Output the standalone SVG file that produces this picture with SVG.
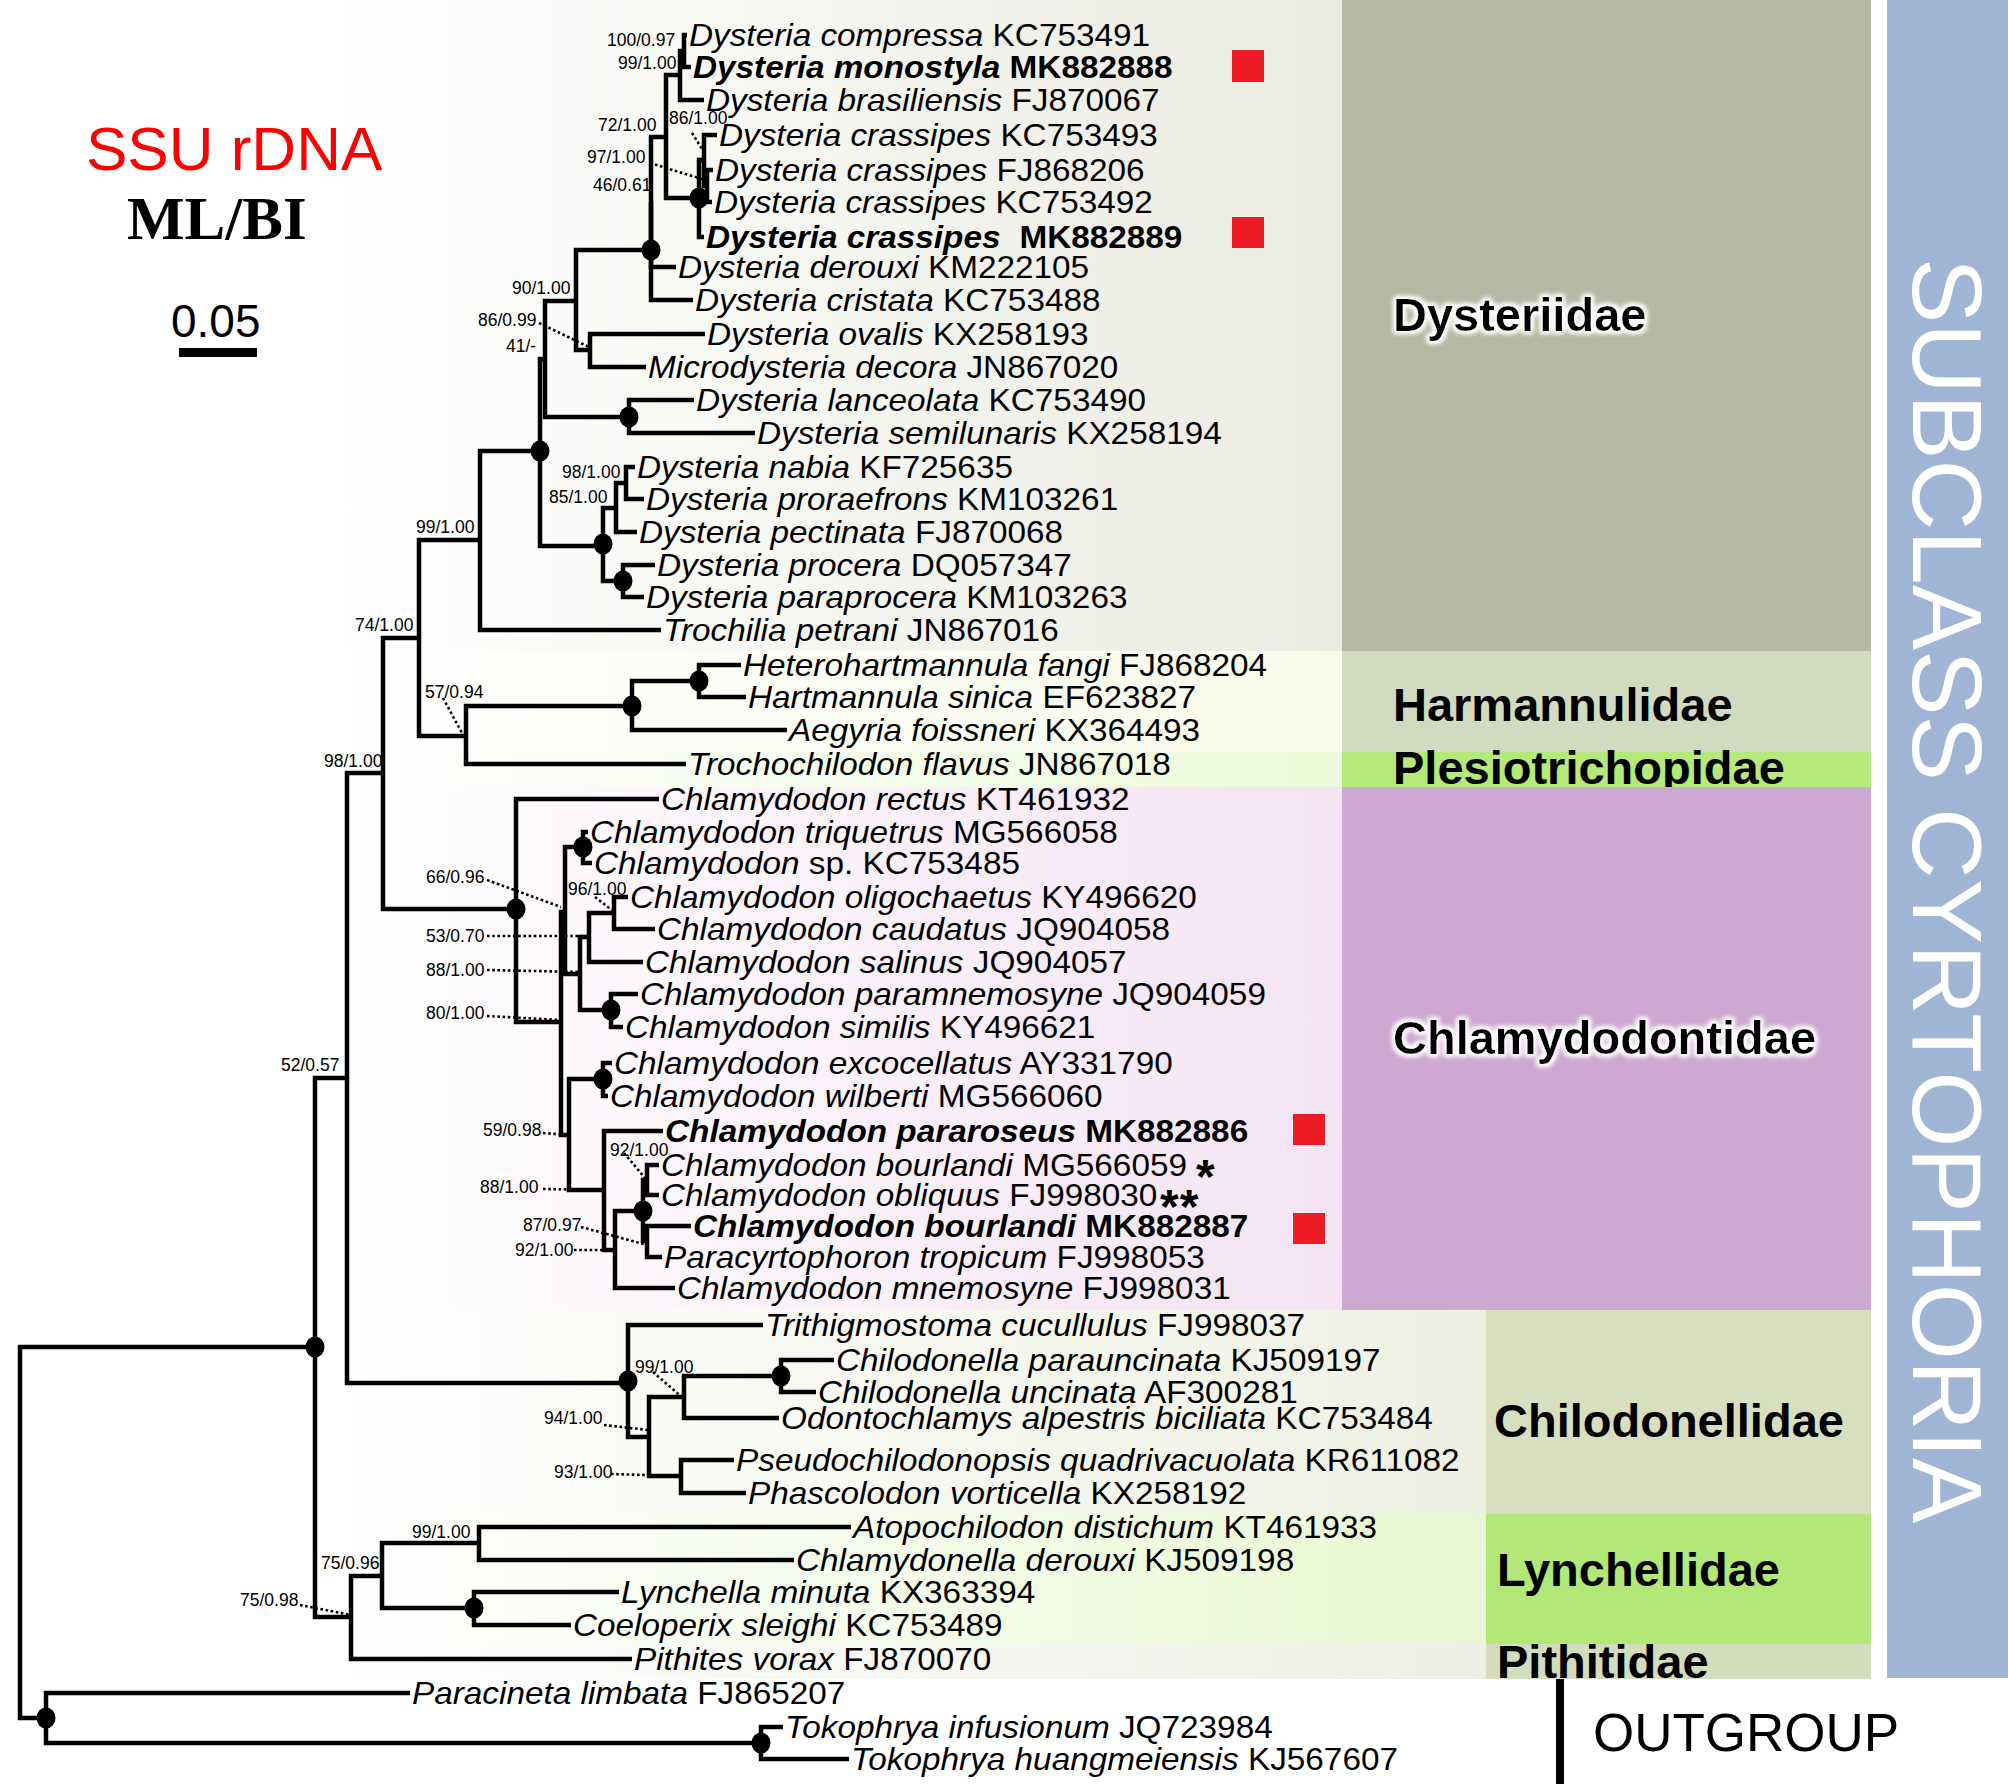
<svg xmlns="http://www.w3.org/2000/svg" width="2008" height="1784" viewBox="0 0 2008 1784">
<defs>
<style>
.t{font-family:"Liberation Sans",Arial,sans-serif;font-size:31px;fill:#000}
.i{font-style:italic}
.b{font-weight:bold}
.s{font-family:"Liberation Sans",Arial,sans-serif;font-size:17.5px;fill:#000}
.fam{font-family:"Liberation Sans",Arial,sans-serif;font-size:47px;font-weight:bold;fill:#000}
.ast{font-family:"Liberation Sans",Arial,sans-serif;font-size:48px;font-weight:bold;fill:#000}
.br{fill:none;stroke:#000;stroke-width:4.5;stroke-linejoin:miter}
.ld{fill:none;stroke:#000;stroke-width:2.6;stroke-dasharray:2.6 2.6}
.dot{fill:#000}
.sq{fill:#ed1c24}
</style>
<linearGradient id="gD" gradientUnits="userSpaceOnUse" x1="350" y1="0" x2="1342" y2="0"><stop offset="0" stop-color="#ffffff"/><stop offset="1" stop-color="#ebebe2"/></linearGradient>
<linearGradient id="gH" gradientUnits="userSpaceOnUse" x1="350" y1="0" x2="1342" y2="0"><stop offset="0" stop-color="#ffffff"/><stop offset="1" stop-color="#f8fbe8"/></linearGradient>
<linearGradient id="gP" gradientUnits="userSpaceOnUse" x1="350" y1="0" x2="1342" y2="0"><stop offset="0" stop-color="#ffffff"/><stop offset="1" stop-color="#ecfad9"/></linearGradient>
<linearGradient id="gC" gradientUnits="userSpaceOnUse" x1="350" y1="0" x2="1342" y2="0"><stop offset="0" stop-color="#ffffff"/><stop offset="1" stop-color="#f5e3f3"/></linearGradient>
<linearGradient id="gCh" gradientUnits="userSpaceOnUse" x1="350" y1="0" x2="1486" y2="0"><stop offset="0" stop-color="#ffffff"/><stop offset="1" stop-color="#eef1e1"/></linearGradient>
<linearGradient id="gL" gradientUnits="userSpaceOnUse" x1="350" y1="0" x2="1486" y2="0"><stop offset="0" stop-color="#ffffff"/><stop offset="1" stop-color="#e9f8d2"/></linearGradient>
<linearGradient id="gPi" gradientUnits="userSpaceOnUse" x1="350" y1="0" x2="1486" y2="0"><stop offset="0" stop-color="#ffffff"/><stop offset="1" stop-color="#eeefe5"/></linearGradient>
<filter id="glow" x="-10%" y="-40%" width="120%" height="180%">
<feMorphology in="SourceAlpha" operator="dilate" radius="2" result="d"/>
<feGaussianBlur in="d" stdDeviation="2.5" result="bl"/>
<feFlood flood-color="#ffffff" result="f"/>
<feComposite in="f" in2="bl" operator="in" result="g"/>
<feMerge><feMergeNode in="g"/><feMergeNode in="g"/><feMergeNode in="SourceGraphic"/></feMerge>
</filter>
</defs>

<rect width="2008" height="1784" fill="#ffffff"/>

<g id="background">
<rect x="0" y="0" width="1342" height="651" fill="url(#gD)"/>
<rect x="0" y="651" width="1342" height="101" fill="url(#gH)"/>
<rect x="0" y="752" width="1342" height="35" fill="url(#gP)"/>
<rect x="0" y="787" width="1342" height="523" fill="url(#gC)"/>
<rect x="0" y="1310" width="1486" height="204" fill="url(#gCh)"/>
<rect x="0" y="1514" width="1486" height="130" fill="url(#gL)"/>
<rect x="0" y="1644" width="1486" height="35" fill="url(#gPi)"/>
</g>

<g id="families">
<g id="fam-dysteriidae"><rect x="1342" y="0" width="529" height="651" fill="#b5b8a2"/><text class="fam" x="1393" y="331" filter="url(#glow)">Dysteriidae</text></g>
<g id="fam-harmannulidae"><rect x="1342" y="651" width="529" height="101" fill="#d2dbbf"/><text class="fam" x="1393" y="721">Harmannulidae</text></g>
<g id="fam-plesiotrichopidae"><rect x="1342" y="752" width="529" height="35" fill="#b5e97c"/><text class="fam" x="1393" y="784">Plesiotrichopidae</text></g>
<g id="fam-chlamydodontidae"><rect x="1342" y="787" width="529" height="523" fill="#cda8d0"/><text class="fam" x="1393" y="1054" filter="url(#glow)">Chlamydodontidae</text></g>
<g id="fam-chilodonellidae"><rect x="1486" y="1310" width="385" height="204" fill="#d8dfc0"/><text class="fam" x="1494" y="1437">Chilodonellidae</text></g>
<g id="fam-lynchellidae"><rect x="1486" y="1514" width="385" height="130" fill="#b2e877"/><text class="fam" x="1497" y="1586">Lynchellidae</text></g>
<g id="fam-pithitidae"><rect x="1486" y="1644" width="385" height="35" fill="#d4dcbe"/><text class="fam" x="1497" y="1678">Pithitidae</text></g>
<g id="subclass"><rect x="1887" y="0" width="121" height="1678" fill="#a0b4d5"/><text x="0" y="0" transform="translate(1913 258) rotate(90)" font-family="Liberation Sans, Arial, sans-serif" font-size="98" fill="#ffffff">SUBCLASS CYRTOPHORIA</text></g>
<g id="outgroup-label"><rect x="1556" y="1679" width="8" height="105" fill="#000"/><text x="1593" y="1751" font-family="Liberation Sans, Arial, sans-serif" font-size="53" fill="#000">OUTGROUP</text></g>
</g>

<g id="title">
<text x="86" y="170" font-family="Liberation Sans, Arial, sans-serif" font-size="62" fill="#ff0000">SSU rDNA</text>
<text x="127" y="239" font-family="Liberation Serif, Times New Roman, serif" font-size="61" font-weight="bold" fill="#000">ML/BI</text>
<text x="171" y="337" font-family="Liberation Sans, Arial, sans-serif" font-size="46" fill="#000">0.05</text>
<rect x="179" y="348" width="78" height="9" fill="#000"/>
</g>

<g id="connectors">
<path class="br" d="M687 35H684V67H691"/>
<path class="br" d="M684 51H680V100H704"/>
<path class="br" d="M713 170H707V202H712"/>
<path class="br" d="M717 135H704V186H707"/>
<path class="br" d="M704 160H699V237H704"/>
<path class="br" d="M680 75H666V198H699"/>
<path class="br" d="M666 137H651V267H676"/>
<path class="br" d="M651 202V300H693"/>
<path class="br" d="M651 250H576V350H590"/>
<path class="br" d="M705 334H590V367H646"/>
<path class="br" d="M576 301H545V417H629"/>
<path class="br" d="M694 400H629V433H755"/>
<path class="br" d="M545 359H540V546H603"/>
<path class="br" d="M616 508H603V581H623"/>
<path class="br" d="M626 483H616V532H637"/>
<path class="br" d="M635 467H626V499H644"/>
<path class="br" d="M655 565H623V597H644"/>
<path class="br" d="M540 451H480V630H661"/>
<path class="br" d="M480 540H419V736H466"/>
<path class="br" d="M632 706H466V764H686"/>
<path class="br" d="M699 681H632V730H787"/>
<path class="br" d="M741 665H699V697H746"/>
<path class="br" d="M419 638H383V909H516"/>
<path class="br" d="M659 799H516V1022H561"/>
<path class="br" d="M565 912H561V1135H569"/>
<path class="br" d="M583 847H565V974H580"/>
<path class="br" d="M588 832H583V863H592"/>
<path class="br" d="M589 937H580V1010H611"/>
<path class="br" d="M614 913H589V962H643"/>
<path class="br" d="M628 897H614V929H655"/>
<path class="br" d="M638 994H611V1027H623"/>
<path class="br" d="M603 1079H569V1190H604"/>
<path class="br" d="M612 1063H603V1096H608"/>
<path class="br" d="M663 1131H604V1250H615"/>
<path class="br" d="M643 1211H615V1288H675"/>
<path class="br" d="M647 1180H643V1241H647"/>
<path class="br" d="M659 1165H647V1195H659"/>
<path class="br" d="M691 1226H647V1257H662"/>
<path class="br" d="M383 773H347V1383H628"/>
<path class="br" d="M763 1325H628V1437H649"/>
<path class="br" d="M684 1397H649V1476H681"/>
<path class="br" d="M781 1376H684V1418H779"/>
<path class="br" d="M834 1360H781V1392H816"/>
<path class="br" d="M734 1460H681V1493H746"/>
<path class="br" d="M347 1078H315V1617H351"/>
<path class="br" d="M382 1576H351V1659H632"/>
<path class="br" d="M479 1543H382V1608H474"/>
<path class="br" d="M851 1527H479V1560H794"/>
<path class="br" d="M619 1592H474V1625H571"/>
<path class="br" d="M315 1347H20V1718H46"/>
<path class="br" d="M410 1693H46V1743H761"/>
<path class="br" d="M783 1727H761V1759H849"/>
</g>

<g id="leaders">
<path class="ld" d="M692 133L704 152"/>
<path class="ld" d="M650 163L705 180"/>
<path class="ld" d="M539 323L589 347"/>
<path class="ld" d="M443 698L462 733"/>
<path class="ld" d="M487 880L561 907"/>
<path class="ld" d="M595 897L613 911"/>
<path class="ld" d="M487 936H588"/>
<path class="ld" d="M487 970L580 972"/>
<path class="ld" d="M487 1016L560 1020"/>
<path class="ld" d="M543 1133L568 1135"/>
<path class="ld" d="M543 1189L603 1190"/>
<path class="ld" d="M624 1153L645 1178"/>
<path class="ld" d="M581 1227L647 1245"/>
<path class="ld" d="M574 1250H614"/>
<path class="ld" d="M653 1372L683 1398"/>
<path class="ld" d="M604 1425L648 1430"/>
<path class="ld" d="M611 1474L681 1476"/>
<path class="ld" d="M300 1605L351 1615"/>
</g>

<g id="node-dots">
<ellipse class="dot" cx="651" cy="250" rx="9.5" ry="10.5"/>
<ellipse class="dot" cx="699" cy="198" rx="9.5" ry="10.5"/>
<ellipse class="dot" cx="540" cy="451" rx="9.5" ry="10.5"/>
<ellipse class="dot" cx="629" cy="417" rx="9.5" ry="10.5"/>
<ellipse class="dot" cx="603" cy="544" rx="9.5" ry="10.5"/>
<ellipse class="dot" cx="623" cy="581" rx="9.5" ry="10.5"/>
<ellipse class="dot" cx="632" cy="706" rx="9.5" ry="10.5"/>
<ellipse class="dot" cx="699" cy="681" rx="9.5" ry="10.5"/>
<ellipse class="dot" cx="516" cy="909" rx="9.5" ry="10.5"/>
<ellipse class="dot" cx="583" cy="847" rx="9.5" ry="10.5"/>
<ellipse class="dot" cx="611" cy="1010" rx="9.5" ry="10.5"/>
<ellipse class="dot" cx="603" cy="1079" rx="9.5" ry="10.5"/>
<ellipse class="dot" cx="643" cy="1211" rx="9.5" ry="10.5"/>
<ellipse class="dot" cx="628" cy="1381" rx="9.5" ry="10.5"/>
<ellipse class="dot" cx="781" cy="1376" rx="9.5" ry="10.5"/>
<ellipse class="dot" cx="474" cy="1608" rx="9.5" ry="10.5"/>
<ellipse class="dot" cx="315" cy="1347" rx="9.5" ry="10.5"/>
<ellipse class="dot" cx="46" cy="1718" rx="9.5" ry="10.5"/>
<ellipse class="dot" cx="761" cy="1743" rx="9.5" ry="10.5"/>
</g>

<g id="support-values">
<text class="s" x="607" y="46">100/0.97</text>
<text class="s" x="618" y="69">99/1.00</text>
<text class="s" x="598" y="131">72/1.00</text>
<text class="s" x="669" y="124">86/1.00</text>
<text class="s" x="587" y="163">97/1.00</text>
<text class="s" x="593" y="191">46/0.61</text>
<text class="s" x="512" y="294">90/1.00</text>
<text class="s" x="478" y="326">86/0.99</text>
<text class="s" x="506" y="352">41/-</text>
<text class="s" x="562" y="478">98/1.00</text>
<text class="s" x="549" y="503">85/1.00</text>
<text class="s" x="416" y="533">99/1.00</text>
<text class="s" x="355" y="631">74/1.00</text>
<text class="s" x="425" y="698">57/0.94</text>
<text class="s" x="324" y="767">98/1.00</text>
<text class="s" x="426" y="883">66/0.96</text>
<text class="s" x="568" y="895">96/1.00</text>
<text class="s" x="426" y="942">53/0.70</text>
<text class="s" x="426" y="976">88/1.00</text>
<text class="s" x="426" y="1019">80/1.00</text>
<text class="s" x="483" y="1136">59/0.98</text>
<text class="s" x="480" y="1193">88/1.00</text>
<text class="s" x="610" y="1156">92/1.00</text>
<text class="s" x="523" y="1231">87/0.97</text>
<text class="s" x="515" y="1256">92/1.00</text>
<text class="s" x="281" y="1071">52/0.57</text>
<text class="s" x="635" y="1373">99/1.00</text>
<text class="s" x="544" y="1424">94/1.00</text>
<text class="s" x="554" y="1478">93/1.00</text>
<text class="s" x="412" y="1538">99/1.00</text>
<text class="s" x="321" y="1569">75/0.96</text>
<text class="s" x="240" y="1606">75/0.98</text>
</g>

<g id="taxa">
<g id="t1"><text class="t" transform="translate(689 46) scale(1.075 1)"><tspan class="i">Dysteria compressa</tspan> KC753491</text></g>
<g id="t2"><text class="t b" transform="translate(693 78) scale(1.075 1)"><tspan class="i">Dysteria monostyla</tspan> MK882888</text><rect class="sq" x="1232" y="50" width="32" height="32"/></g>
<g id="t3"><text class="t" transform="translate(706 111) scale(1.075 1)"><tspan class="i">Dysteria brasiliensis</tspan> FJ870067</text></g>
<g id="t4"><text class="t" transform="translate(719 146) scale(1.075 1)"><tspan class="i">Dysteria crassipes</tspan> KC753493</text></g>
<g id="t5"><text class="t" transform="translate(715 181) scale(1.075 1)"><tspan class="i">Dysteria crassipes</tspan> FJ868206</text></g>
<g id="t6"><text class="t" transform="translate(714 213) scale(1.075 1)"><tspan class="i">Dysteria crassipes</tspan> KC753492</text></g>
<g id="t7"><text class="t b" transform="translate(706 248) scale(1.075 1)"><tspan class="i">Dysteria crassipes</tspan><tspan dx="9"> MK882889</tspan></text><rect class="sq" x="1232" y="217" width="32" height="31"/></g>
<g id="t8"><text class="t" transform="translate(678 278) scale(1.075 1)"><tspan class="i">Dysteria derouxi</tspan> KM222105</text></g>
<g id="t9"><text class="t" transform="translate(695 311) scale(1.075 1)"><tspan class="i">Dysteria cristata</tspan> KC753488</text></g>
<g id="t10"><text class="t" transform="translate(707 345) scale(1.075 1)"><tspan class="i">Dysteria ovalis</tspan> KX258193</text></g>
<g id="t11"><text class="t" transform="translate(648 378) scale(1.075 1)"><tspan class="i">Microdysteria decora</tspan> JN867020</text></g>
<g id="t12"><text class="t" transform="translate(696 411) scale(1.075 1)"><tspan class="i">Dysteria lanceolata</tspan> KC753490</text></g>
<g id="t13"><text class="t" transform="translate(757 444) scale(1.075 1)"><tspan class="i">Dysteria semilunaris</tspan> KX258194</text></g>
<g id="t14"><text class="t" transform="translate(637 478) scale(1.075 1)"><tspan class="i">Dysteria nabia</tspan> KF725635</text></g>
<g id="t15"><text class="t" transform="translate(646 510) scale(1.075 1)"><tspan class="i">Dysteria proraefrons</tspan> KM103261</text></g>
<g id="t16"><text class="t" transform="translate(639 543) scale(1.075 1)"><tspan class="i">Dysteria pectinata</tspan> FJ870068</text></g>
<g id="t17"><text class="t" transform="translate(657 576) scale(1.075 1)"><tspan class="i">Dysteria procera</tspan> DQ057347</text></g>
<g id="t18"><text class="t" transform="translate(646 608) scale(1.075 1)"><tspan class="i">Dysteria paraprocera</tspan> KM103263</text></g>
<g id="t19"><text class="t" transform="translate(663 641) scale(1.075 1)"><tspan class="i">Trochilia petrani</tspan> JN867016</text></g>
<g id="t20"><text class="t" transform="translate(743 676) scale(1.075 1)"><tspan class="i">Heterohartmannula fangi</tspan> FJ868204</text></g>
<g id="t21"><text class="t" transform="translate(748 708) scale(1.075 1)"><tspan class="i">Hartmannula sinica</tspan> EF623827</text></g>
<g id="t22"><text class="t" transform="translate(789 741) scale(1.075 1)"><tspan class="i">Aegyria foissneri</tspan> KX364493</text></g>
<g id="t23"><text class="t" transform="translate(688 775) scale(1.075 1)"><tspan class="i">Trochochilodon flavus</tspan> JN867018</text></g>
<g id="t24"><text class="t" transform="translate(661 810) scale(1.075 1)"><tspan class="i">Chlamydodon rectus</tspan> KT461932</text></g>
<g id="t25"><text class="t" transform="translate(590 843) scale(1.075 1)"><tspan class="i">Chlamydodon triquetrus</tspan> MG566058</text></g>
<g id="t26"><text class="t" transform="translate(594 874) scale(1.075 1)"><tspan class="i">Chlamydodon</tspan> sp. KC753485</text></g>
<g id="t27"><text class="t" transform="translate(630 908) scale(1.075 1)"><tspan class="i">Chlamydodon oligochaetus</tspan> KY496620</text></g>
<g id="t28"><text class="t" transform="translate(657 940) scale(1.075 1)"><tspan class="i">Chlamydodon caudatus</tspan> JQ904058</text></g>
<g id="t29"><text class="t" transform="translate(645 973) scale(1.075 1)"><tspan class="i">Chlamydodon salinus</tspan> JQ904057</text></g>
<g id="t30"><text class="t" transform="translate(640 1005) scale(1.075 1)"><tspan class="i">Chlamydodon paramnemosyne</tspan> JQ904059</text></g>
<g id="t31"><text class="t" transform="translate(625 1038) scale(1.075 1)"><tspan class="i">Chlamydodon similis</tspan> KY496621</text></g>
<g id="t32"><text class="t" transform="translate(614 1074) scale(1.075 1)"><tspan class="i">Chlamydodon excocellatus</tspan> AY331790</text></g>
<g id="t33"><text class="t" transform="translate(610 1107) scale(1.075 1)"><tspan class="i">Chlamydodon wilberti</tspan> MG566060</text></g>
<g id="t34"><text class="t b" transform="translate(665 1142) scale(1.075 1)"><tspan class="i">Chlamydodon pararoseus</tspan> MK882886</text><rect class="sq" x="1293" y="1114" width="32" height="31"/></g>
<g id="t35"><text class="t" transform="translate(661 1176) scale(1.075 1)"><tspan class="i">Chlamydodon bourlandi</tspan> MG566059</text><text class="ast" x="1196" y="1193">*</text></g>
<g id="t36"><text class="t" transform="translate(661 1206) scale(1.075 1)"><tspan class="i">Chlamydodon obliquus</tspan> FJ998030</text><text class="ast" x="1160" y="1223" letter-spacing="1">**</text></g>
<g id="t37"><text class="t b" transform="translate(693 1237) scale(1.075 1)"><tspan class="i">Chlamydodon bourlandi</tspan> MK882887</text><rect class="sq" x="1293" y="1213" width="32" height="31"/></g>
<g id="t38"><text class="t" transform="translate(664 1268) scale(1.075 1)"><tspan class="i">Paracyrtophoron tropicum</tspan> FJ998053</text></g>
<g id="t39"><text class="t" transform="translate(677 1299) scale(1.075 1)"><tspan class="i">Chlamydodon mnemosyne</tspan> FJ998031</text></g>
<g id="t40"><text class="t" transform="translate(765 1336) scale(1.075 1)"><tspan class="i">Trithigmostoma cucullulus</tspan> FJ998037</text></g>
<g id="t41"><text class="t" transform="translate(836 1371) scale(1.075 1)"><tspan class="i">Chilodonella parauncinata</tspan> KJ509197</text></g>
<g id="t42"><text class="t" transform="translate(818 1403) scale(1.075 1)"><tspan class="i">Chilodonella uncinata</tspan> AF300281</text></g>
<g id="t43"><text class="t" transform="translate(781 1429) scale(1.075 1)"><tspan class="i">Odontochlamys alpestris biciliata</tspan> KC753484</text></g>
<g id="t44"><text class="t" transform="translate(736 1471) scale(1.075 1)"><tspan class="i">Pseudochilodonopsis quadrivacuolata</tspan> KR611082</text></g>
<g id="t45"><text class="t" transform="translate(748 1504) scale(1.075 1)"><tspan class="i">Phascolodon vorticella</tspan> KX258192</text></g>
<g id="t46"><text class="t" transform="translate(853 1538) scale(1.075 1)"><tspan class="i">Atopochilodon distichum</tspan> KT461933</text></g>
<g id="t47"><text class="t" transform="translate(796 1571) scale(1.075 1)"><tspan class="i">Chlamydonella derouxi</tspan> KJ509198</text></g>
<g id="t48"><text class="t" transform="translate(621 1603) scale(1.075 1)"><tspan class="i">Lynchella minuta</tspan> KX363394</text></g>
<g id="t49"><text class="t" transform="translate(573 1636) scale(1.075 1)"><tspan class="i">Coeloperix sleighi</tspan> KC753489</text></g>
<g id="t50"><text class="t" transform="translate(634 1670) scale(1.075 1)"><tspan class="i">Pithites vorax</tspan> FJ870070</text></g>
<g id="t51"><text class="t" transform="translate(412 1704) scale(1.075 1)"><tspan class="i">Paracineta limbata</tspan> FJ865207</text></g>
<g id="t52"><text class="t" transform="translate(785 1738) scale(1.075 1)"><tspan class="i">Tokophrya infusionum</tspan> JQ723984</text></g>
<g id="t53"><text class="t" transform="translate(851 1770) scale(1.075 1)"><tspan class="i">Tokophrya huangmeiensis</tspan> KJ567607</text></g>
</g>
</svg>
